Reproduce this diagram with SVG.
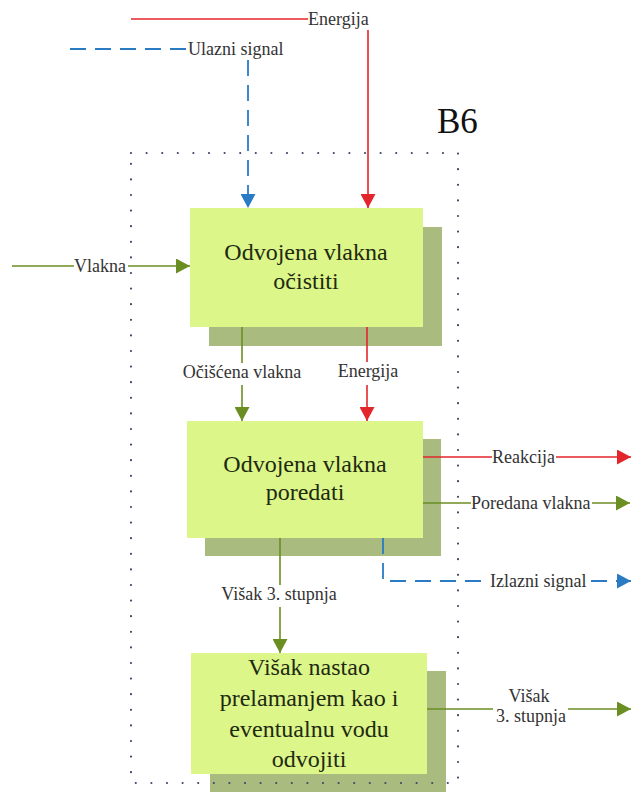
<svg xmlns="http://www.w3.org/2000/svg" width="632" height="792" viewBox="0 0 632 792">
<style>
.bg{fill:#ffffff}
.front{fill:#dcf68a}
.shadow{fill:#a9bb7f}
.btxt{font-family:"Liberation Serif","Times New Roman",serif;font-size:24px;fill:#1e2a10;text-anchor:middle}
.lbl{font-family:"Liberation Serif","Times New Roman",serif;font-size:18px;fill:#333333}
.g{stroke:#6b8e23;stroke-width:1.6;fill:none}
.r{stroke:#e3262b;stroke-width:1.6;fill:none}
.b{stroke:#2a7bc4;stroke-width:1.8;fill:none;stroke-dasharray:16 9}
.bound{fill:none;stroke:#3c4a66;stroke-width:2.2;stroke-linecap:round;stroke-dasharray:0 15.6}
</style>
<defs>
<marker id="ag" markerUnits="userSpaceOnUse" markerWidth="14" markerHeight="15" refX="14" refY="7.5" orient="auto"><path d="M0,0 L14,7.5 L0,15 z" fill="#6b8e23"/></marker>
<marker id="ar" markerUnits="userSpaceOnUse" markerWidth="14" markerHeight="15" refX="14" refY="7.5" orient="auto"><path d="M0,0 L14,7.5 L0,15 z" fill="#e3262b"/></marker>
<marker id="ab" markerUnits="userSpaceOnUse" markerWidth="14" markerHeight="15" refX="14" refY="7.5" orient="auto"><path d="M0,0 L14,7.5 L0,15 z" fill="#2a7bc4"/></marker>
</defs>
<rect class="bg" x="0" y="0" width="632" height="792"/>

<g id="node1">
<rect class="shadow" x="209" y="227" width="233" height="119"/>
<rect class="front" x="190" y="208" width="233" height="119"/>
<text class="btxt" x="306" y="260">Odvojena vlakna</text>
<text class="btxt" x="306" y="289">očistiti</text>
</g>
<g id="node2">
<rect class="shadow" x="205" y="439" width="236" height="117"/>
<rect class="front" x="187" y="421" width="236" height="117"/>
<text class="btxt" x="305" y="472">Odvojena vlakna</text>
<text class="btxt" x="305" y="500">poredati</text>
</g>
<g id="node3">
<rect class="shadow" x="210" y="671" width="236" height="121"/>
<rect class="front" x="191" y="653" width="236" height="121"/>
<text class="btxt" x="309" y="675">Višak nastao</text>
<text class="btxt" x="309" y="706">prelamanjem kao i</text>
<text class="btxt" x="309" y="737">eventualnu vodu</text>
<text class="btxt" x="309" y="767">odvojiti</text>
</g>

<g id="connectors">
<!-- top energy -->
<line class="r" x1="131" y1="19" x2="308" y2="19"/>
<text class="lbl" x="308" y="25">Energija</text>
<line class="r" x1="368" y1="30" x2="368" y2="208" marker-end="url(#ar)"/>
<!-- input signal -->
<line class="b" x1="70" y1="49" x2="187" y2="49"/>
<text class="lbl" x="188" y="55">Ulazni signal</text>
<line class="b" x1="248" y1="60" x2="248" y2="208" marker-end="url(#ab)"/>
<!-- Vlakna -->
<line class="g" x1="12" y1="266" x2="74" y2="266"/>
<text class="lbl" x="74" y="272">Vlakna</text>
<line class="g" x1="128" y1="266" x2="190" y2="266" marker-end="url(#ag)"/>
<!-- box1 to box2 -->
<line class="g" x1="242" y1="327" x2="242" y2="363"/>
<text class="lbl" x="242" y="378" text-anchor="middle">Očišćena vlakna</text>
<line class="g" x1="242" y1="385" x2="242" y2="421" marker-end="url(#ag)"/>
<line class="r" x1="367" y1="327" x2="367" y2="362"/>
<text class="lbl" x="368" y="377" text-anchor="middle">Energija</text>
<line class="r" x1="367" y1="385" x2="367" y2="421" marker-end="url(#ar)"/>
<!-- outputs of box2 -->
<line class="r" x1="423" y1="457" x2="492" y2="457"/>
<text class="lbl" x="492" y="463">Reakcija</text>
<line class="r" x1="556" y1="457" x2="631" y2="457" marker-end="url(#ar)"/>
<line class="g" x1="423" y1="503" x2="471" y2="503"/>
<text class="lbl" x="471" y="509">Poredana vlakna</text>
<line class="g" x1="592" y1="503" x2="630" y2="503" marker-end="url(#ag)"/>
<path class="b" d="M383,538 L383,581 L488,581"/>
<text class="lbl" x="490" y="587">Izlazni signal</text>
<line class="b" x1="591" y1="581" x2="631" y2="581" marker-end="url(#ab)"/>
<!-- box2 to box3 -->
<line class="g" x1="280" y1="538" x2="280" y2="585"/>
<text class="lbl" x="279" y="600" text-anchor="middle">Višak 3. stupnja</text>
<line class="g" x1="280" y1="607" x2="280" y2="653" marker-end="url(#ag)"/>
<!-- box3 output -->
<line class="g" x1="427" y1="709" x2="493" y2="709"/>
<text class="lbl" x="529" y="702" text-anchor="middle">Višak</text>
<text class="lbl" x="531" y="722" text-anchor="middle">3. stupnja</text>
<line class="g" x1="568" y1="709" x2="631" y2="709" marker-end="url(#ag)"/>
</g>

<g id="boundary">
<rect class="bound" x="131" y="153" width="327" height="630"/>
<text x="437" y="133" style="font-family:'Liberation Serif','Times New Roman',serif;font-size:35px;fill:#111">B6</text>
</g>
</svg>
